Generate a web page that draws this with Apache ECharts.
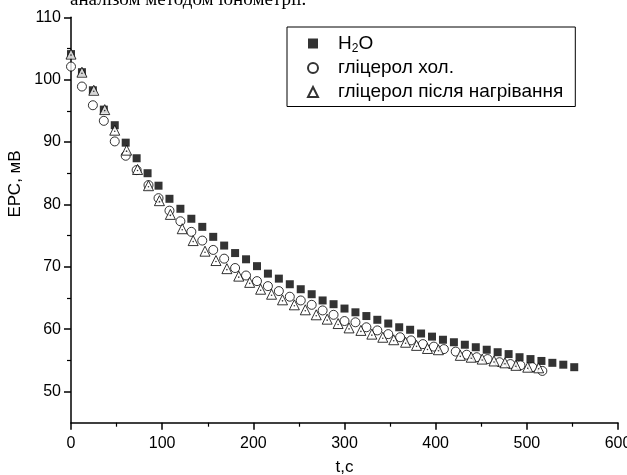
<!DOCTYPE html>
<html><head><meta charset="utf-8">
<script src="https://cdn.jsdelivr.net/npm/echarts@6/dist/echarts.min.js"></script>
<style>html,body{margin:0;padding:0;background:#fff}#c{width:627px;height:475px}</style>
</head><body><div id="c"></div>
<script>
// ---- data ----
const seriesNames = ['H2O', 'гліцерол хол.', 'гліцерол після нагрівання'];
const h2oT = [0,12,24,36,48,60,72,84,96,108,120,132,144,156,168,180,192,204,216,228,240,252,264,276,288,300,312,324,336,348,360,372,384,396,408,420,432,444,456,468,480,492,504,516,528,540,552];
const h2oV = [104.1,101.2,98.3,95.2,92.7,89.9,87.4,85.0,83.0,80.9,79.3,77.7,76.4,74.8,73.4,72.2,71.2,70.1,68.9,68.1,67.2,66.4,65.6,64.6,64.0,63.3,62.7,62.1,61.5,60.9,60.3,59.9,59.3,58.8,58.3,57.9,57.5,57.1,56.7,56.3,56.0,55.5,55.2,54.9,54.6,54.3,53.9];
const coldT = [0,12,24,36,48,60,72,85,96,108,120,132,144,156,168,180,192,204,216,228,240,252,264,276,288,300,312,324,336,348,361,373,386,398,409,422,434,445,457,470,482,493,506,517];
const coldV = [102.1,98.9,95.9,93.4,90.1,87.8,85.5,83.1,81.0,79.0,77.3,75.6,74.2,72.7,71.3,69.8,68.6,67.7,66.9,66.1,65.2,64.6,63.9,63.0,62.3,61.3,61.1,60.3,59.8,59.2,58.7,58.2,57.6,57.2,56.8,56.4,55.9,55.5,55.2,54.7,54.4,54.2,53.9,53.3];
const heatT = [0,12,25,37,48,61,73,85,97,109,122,134,147,159,171,184,196,208,220,232,245,257,269,281,293,305,318,330,342,354,367,379,391,403,427,439,451,464,476,488,501,513];
const heatV = [104.1,101.2,98.3,95.2,91.9,88.7,85.6,83.0,80.6,78.4,76.1,74.2,72.5,71.0,69.7,68.5,67.5,66.4,65.6,64.7,63.9,63.1,62.3,61.6,60.9,60.2,59.8,59.2,58.7,58.3,57.9,57.4,56.9,56.7,55.8,55.5,55.2,54.9,54.6,54.2,53.9,53.8];
const yMajorTicks = [50,60,70,80,90,100,110];
const yMinorTicks = [55,65,75,85,95,105];
const xAxisTitle = 't,c';
const yAxisTitle = 'ЕРС, мВ';
const topCaption = 'аналізом методом іонометрії.';

const zip = (t, v) => t.map((x, i) => [x, v[i]]);
const FONT = '"Liberation Sans", Arial, sans-serif';

const chart = echarts.init(document.getElementById('c'), null, {renderer: 'canvas'});
chart.setOption({
  animation: false,
  backgroundColor: '#fff',
  textStyle: {fontFamily: FONT, color: '#000'},
  grid: {left: 71, right: 9, top: 17.3, bottom: 52.3, outerBoundsMode: 'none'},
  xAxis: {
    type: 'value', min: 0, max: 600, interval: 100,
    name: xAxisTitle, nameLocation: 'middle', nameGap: 36,
    nameTextStyle: {fontSize: 17, color: '#000', fontFamily: FONT},
    axisLine: {onZero: false, lineStyle: {color: '#000', width: 1.5}},
    axisTick: {length: 7, lineStyle: {color: '#000', width: 1.5}},
    minorTick: {show: true, splitNumber: 2, length: 4, lineStyle: {color: '#000', width: 1.2}},
    axisLabel: {fontSize: 16, color: '#000', margin: 13, fontFamily: FONT, showMaxLabel: true},
    splitLine: {show: false}
  },
  yAxis: [{
    type: 'value', min: 45, max: 110,
    axisLine: {lineStyle: {color: '#000', width: 1.5}},
    axisTick: {length: 7, customValues: yMajorTicks, lineStyle: {color: '#000', width: 1.5}},
    axisLabel: {fontSize: 16, color: '#000', margin: 10, customValues: yMajorTicks, fontFamily: FONT},
    splitLine: {show: false}
  }, {
    type: 'value', min: 45, max: 110, position: 'left',
    axisLine: {show: false},
    axisTick: {show: true, length: 4, customValues: yMinorTicks, lineStyle: {color: '#000', width: 1.2}},
    axisLabel: {show: false},
    splitLine: {show: false}
  }],
  legend: {
    orient: 'vertical', left: 287, top: 27,
    padding: [6, 12, 4, 20], itemGap: 3,
    itemWidth: 10, itemHeight: 10,
    borderColor: '#000', borderWidth: 1,
    data: seriesNames,
    formatter: n => n === 'H2O' ? '{n|H}{s|2}{n|O}' : n,
    textStyle: {
      fontSize: 19, color: '#000', fontFamily: FONT, lineHeight: 21, padding: [0, 0, 0, 15],
      rich: {n: {fontSize: 19, fontFamily: FONT, lineHeight: 21}, s: {fontSize: 12, fontFamily: FONT, padding: [10, 0, 0, 0]}}
    }
  },
  graphic: [
    {type: 'text', x: 70, y: 10, style: {text: topCaption, font: '19px "Liberation Serif", serif', fill: '#000', verticalAlign: 'bottom'}},
    {type: 'text', x: 15, y: 184, rotation: Math.PI / 2,
     style: {text: yAxisTitle, font: '17px "Liberation Sans", Arial, sans-serif', fill: '#000', align: 'center', verticalAlign: 'middle'}}
  ],
  series: [
    {name: seriesNames[0], type: 'scatter', data: zip(h2oT, h2oV), symbol: 'rect', symbolSize: 8,
     itemStyle: {color: '#000'}, z: 2},
    {name: seriesNames[1], type: 'scatter', data: zip(coldT, coldV), symbol: 'circle', symbolSize: 9,
     itemStyle: {color: '#fff', borderColor: '#000', borderWidth: 1}, z: 3},
    {name: seriesNames[2], type: 'scatter', data: zip(heatT, heatV), symbol: 'triangle', symbolSize: 10,
     itemStyle: {color: '#fff', borderColor: '#000', borderWidth: 1}, z: 4},
    {name: 'dot', type: 'scatter', data: zip(heatT, heatV), symbol: 'circle', symbolSize: 1.6,
     symbolOffset: [0, 1], itemStyle: {color: '#000'}, z: 5, silent: true}
  ]
});
</script>
</body></html>
